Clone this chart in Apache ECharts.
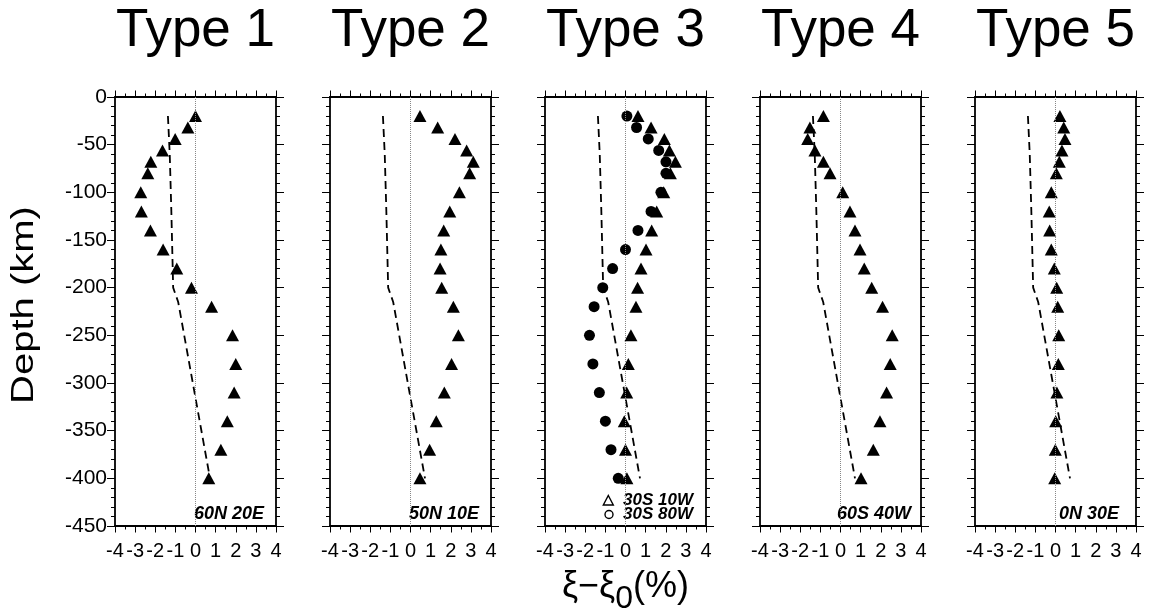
<!DOCTYPE html>
<html><head><meta charset="utf-8">
<script src="https://cdn.jsdelivr.net/npm/echarts@6/dist/echarts.min.js"></script>
<style>html,body{margin:0;padding:0;background:#fff}#c{width:1152px;height:609px}</style>
</head><body><div id="c"></div>
<script>
// ---------- data ----------
const depths = [-20,-32,-44,-56,-68,-80,-100,-120,-140,-160,-180,-200,-220,-250,-280,-310,-340,-370,-400];
const type1Values  = [0.0,-0.38,-1.01,-1.64,-2.22,-2.37,-2.72,-2.69,-2.24,-1.61,-0.93,-0.2,0.8,1.84,2.0,1.92,1.58,1.26,0.66];
const type2Values  = [0.47,1.35,2.21,2.79,3.12,2.94,2.43,1.95,1.65,1.51,1.47,1.55,2.13,2.38,2.04,1.68,1.28,0.95,0.47];
const type3aValues = [0.62,1.27,1.93,2.18,2.48,2.23,1.9,1.55,1.3,1.02,0.77,0.6,0.52,0.27,0.14,0.06,-0.06,0.0,0.07];
const type3bValues = [0.07,0.55,1.13,1.65,2.01,2.01,1.76,1.27,0.62,0.0,-0.64,-1.13,-1.56,-1.79,-1.62,-1.3,-1.0,-0.72,-0.36];
const type4Values  = [-0.85,-1.52,-1.63,-1.27,-0.85,-0.52,0.11,0.47,0.72,0.97,1.18,1.55,2.09,2.57,2.47,2.29,1.96,1.63,1.02];
const type5Values  = [0.22,0.41,0.47,0.32,0.19,0.04,-0.21,-0.31,-0.29,-0.21,-0.06,0.06,0.11,0.16,0.14,0.07,0.01,-0.01,-0.04];
const refDepths = [-20,-60,-120,-200,-215,-400];
const refValues = [-1.37,-1.28,-1.2,-1.11,-0.86,0.72];
const titles = ['Type 1','Type 2','Type 3','Type 4','Type 5'];
const locations = ['60N 20E','50N 10E','','60S 40W','0N 30E'];
const legendNames = ['30S 10W','30S 80W'];
const xMin = -4, xMax = 4, xStep = 1;
const yMin = -450, yMax = 0, yStep = 50;

// ---------- layout ----------
const FONT = '"Liberation Sans", Arial, Helvetica, sans-serif';
const panelLeft = i => 115 + 215 * i;
const panelTop = 97, panelW = 161, panelH = 429;
const pts = vals => vals.map((v, k) => [v, depths[k]]);

const grid = [], xAxis = [], yAxis = [], series = [], graphic = [];
const frameLine = { show: true, onZero: false, lineStyle: { color: '#000', width: 1.8 } };
const txt = (text, x, y, font, align, extra) => Object.assign({
  type: 'text', x: x, y: y, silent: true,
  style: { text: text, font: font, fill: '#000',
           textAlign: align, align: align, textVerticalAlign: 'middle', verticalAlign: 'middle' }
}, extra || {});

titles.forEach((t, i) => {
  const L = panelLeft(i);
  grid.push({ left: L, top: panelTop, width: panelW, height: panelH,
              containLabel: false, outerBoundsMode: 'none' });
  const xBase = {
    type: 'value', gridIndex: i, min: xMin, max: xMax, interval: xStep,
    axisLine: frameLine, splitLine: { show: false }, minorSplitLine: { show: false },
    minorTick: { show: true, splitNumber: 2, length: 3.5, lineStyle: { color: '#000', width: 1 } },
    axisTick: { show: true, length: 6.5, lineStyle: { color: '#000', width: 1 } }
  };
  const bottom = Object.assign({}, xBase, {
    position: 'bottom',
    axisLabel: { show: true, color: '#000', fontSize: 20, fontFamily: FONT, margin: 15 }
  });
  if (i === 2) {
    bottom.name = '{a|ξ−ξ}{s|0}{a|(%)}';
    bottom.nameLocation = 'middle';
    bottom.nameGap = 43;
    bottom.nameTextStyle = {
      rich: {
        a: { fontSize: 36, lineHeight: 36, fontFamily: FONT, color: '#000', verticalAlign: 'top' },
        s: { fontSize: 32, lineHeight: 46, fontFamily: FONT, color: '#000', verticalAlign: 'bottom' }
      }
    };
  }
  xAxis.push(bottom);
  xAxis.push(Object.assign({}, xBase, { position: 'top', axisLabel: { show: false } }));

  const yBase = {
    type: 'value', gridIndex: i, min: yMin, max: yMax, interval: yStep,
    axisLine: frameLine, splitLine: { show: false }, minorSplitLine: { show: false },
    minorTick: { show: true, splitNumber: 5, length: 4, lineStyle: { color: '#000', width: 1 } },
    axisTick: { show: true, length: 8, lineStyle: { color: '#000', width: 1 } }
  };
  yAxis.push(Object.assign({}, yBase, {
    position: 'left',
    axisLabel: { show: i === 0, color: '#000', fontSize: 21, fontFamily: FONT, margin: 8 }
  }));
  yAxis.push(Object.assign({}, yBase, { position: 'right', axisLabel: { show: false } }));

  // reference (dashed) curve + zero line
  series.push({
    type: 'line', name: 'ref' + i, xAxisIndex: 2 * i, yAxisIndex: 2 * i,
    data: refValues.map((v, k) => [v, refDepths[k]]),
    symbol: 'none', silent: true, z: 2,
    lineStyle: { color: '#000', width: 1.8, type: [8, 5] },
    markLine: {
      silent: true, symbol: ['none', 'none'], label: { show: false },
      lineStyle: { color: '#888', type: 'dotted', width: 1 },
      data: [{ xAxis: 0 }]
    }
  });

  graphic.push(txt(t, L + panelW / 2, 31, 'normal 53px ' + FONT, 'center'));
  if (locations[i]) graphic.push(txt(locations[i], L + 114, 514, 'italic bold 18px ' + FONT, 'center'));
});

const tri = (name, vals, i) => ({
  type: 'scatter', name: name, xAxisIndex: 2 * i, yAxisIndex: 2 * i, z: 3,
  data: pts(vals), symbol: 'triangle', symbolSize: [13, 12],
  itemStyle: { color: '#000', opacity: 1 }
});
series.push(tri('60N 20E', type1Values, 0));
series.push(tri('50N 10E', type2Values, 1));
series.push(tri(legendNames[0], type3aValues, 2));
series.push({
  type: 'scatter', name: legendNames[1], xAxisIndex: 4, yAxisIndex: 4, z: 4,
  data: pts(type3bValues), symbol: 'circle', symbolSize: 11,
  itemStyle: { color: '#000', opacity: 1 }
});
series.push(tri('60S 40W', type4Values, 3));
series.push(tri('0N 30E', type5Values, 4));

// legend of panel 3 (hollow symbols + labels)
graphic.push({ type: 'polygon', silent: true,
  shape: { points: [[603.3, 505], [608.3, 495.5], [613.3, 505]] },
  style: { fill: 'none', stroke: '#000', lineWidth: 1.4 } });
graphic.push({ type: 'circle', silent: true,
  shape: { cx: 609, cy: 514.5, r: 4 },
  style: { fill: 'none', stroke: '#000', lineWidth: 1.4 } });
graphic.push(txt(legendNames[0], 623, 500, 'italic bold 17px ' + FONT, 'left'));
graphic.push(txt(legendNames[1], 623, 514, 'italic bold 17px ' + FONT, 'left'));

// y axis title (stretched text, as in the reference)
graphic.push(txt('Depth (km)', 24, 305, 'normal 31px ' + FONT, 'center',
  { rotation: Math.PI / 2, scaleX: 1.29 }));

const chart = echarts.init(document.getElementById('c'), null, { renderer: 'canvas' });
chart.setOption({
  animation: false,
  backgroundColor: '#fff',
  grid, xAxis, yAxis, series, graphic
});
</script>
</body></html>
